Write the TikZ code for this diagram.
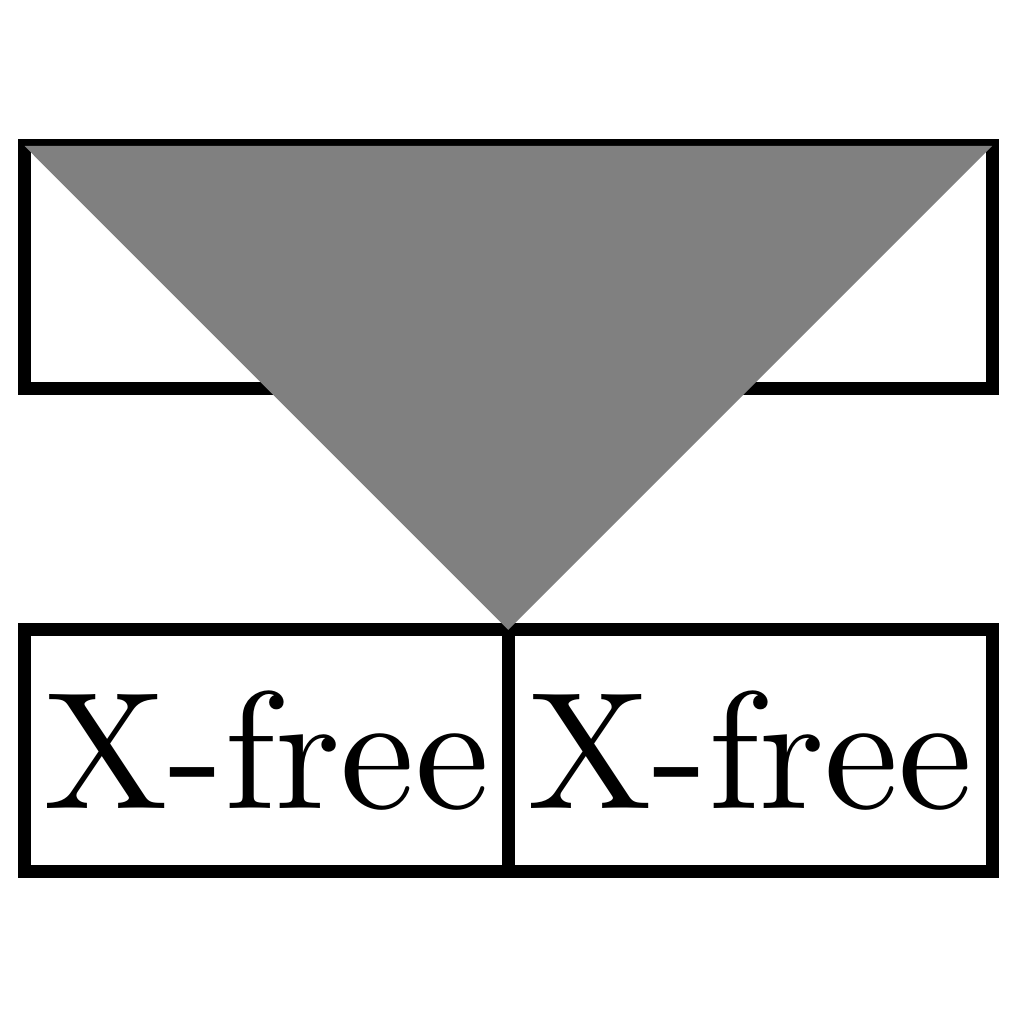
\documentclass[tikz,border=0pt]{standalone}
\usepackage{xcolor}
\usepackage{graphicx}
\usepackage{tikz}
\usetikzlibrary{positioning}

\begin{document}
\begin{tikzpicture}[
    frame/.style={rectangle, draw=black, line width=3.7pt, outer sep=0pt, inner sep=0pt},
    cell/.style={frame, minimum width=4.8375cm, minimum height=2.415cm, align=center},
    wedge/.style={fill=gray, draw=none}
]
\useasboundingbox (0,0) rectangle (10.24,10.24);

% Top box
\node[frame, minimum width=9.675cm, minimum height=2.425cm] (whole) at (5.0825,7.5675) {};

% Bottom row - two halves
\node[cell, below right=2.415cm and 0cm of whole.south west] (leftpart) {\scalebox{4.75}{X-free}};
\node[cell, right=0cm of leftpart] (rightpart) {\scalebox{4.75}{X-free}};

% Wedge
\fill[wedge] (whole.north west) -- (whole.north east) -- (leftpart.north east) -- cycle;

\end{tikzpicture}
\end{document}
